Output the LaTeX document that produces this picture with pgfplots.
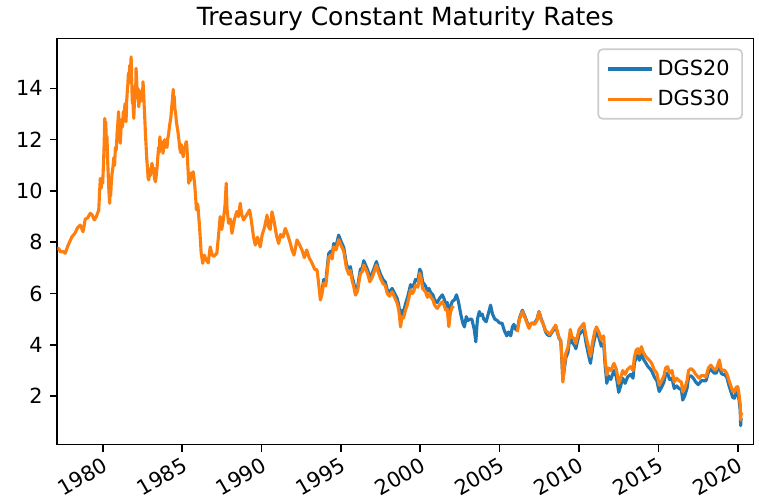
\documentclass[border=0pt]{standalone}
\usepackage{fontspec}
\setmainfont{DejaVu Sans}
\usepackage{pgfplots}
\pgfplotsset{compat=1.18}
\definecolor{mplblue}{HTML}{1F77B4}
\definecolor{mplorange}{HTML}{FF7F0E}
\definecolor{legframe}{HTML}{CCCCCC}

\begin{document}
\begin{tikzpicture}
\begin{axis}[
  scale only axis, width=334.1pt, height=194.9pt,
  xmin=1977.14, xmax=2020.98, ymin=0.12, ymax=15.95,
  xtick={1980,1985,...,2020}, ytick={2,4,...,14},
  xtick pos=left, ytick pos=left, tick align=outside,
  major tick length=3.5pt,
  every tick/.style={black, line width=0.8pt},
  axis line style={line width=0.8pt},
  /pgf/number format/.cd, 1000 sep={}, assume math mode=true, /pgfplots/.cd,
  tick label style={font=\fontsize{10}{12}\selectfont},
  x tick label style={rotate=30, anchor=north east, inner sep=1.5pt},
  legend style={at={(rel axis cs:0.985,0.975)}, anchor=north east,
    draw=legframe, rounded corners=2pt, line width=0.8pt,
    font=\fontsize{10}{12}\selectfont, row sep=1.5pt,
    inner xsep=4pt, inner ysep=3pt},
  legend cell align=left,
  legend image code/.code={\draw[#1, line width=1.5pt] (0pt,0pt) -- (21pt,0pt);},
  every axis plot/.append style={line width=1.5pt, line join=round},
]
% DGS20 (series resumes Oct 1993)
\addplot[mplblue] coordinates {
(1993.75,6.1) (1993.8,6.05) (1993.92,6.55) (1994.05,6.45) (1994.23,7.55) (1994.35,7.65)
(1994.45,7.5) (1994.55,7.95) (1994.7,7.85) (1994.86,8.28) (1995.0,8.05) (1995.18,7.8)
(1995.35,7.15) (1995.5,6.9) (1995.6,7.05) (1995.71,6.65) (1995.8,6.45) (1995.92,6.1)
(1996.05,6.25) (1996.23,6.95) (1996.35,7.0) (1996.44,7.28) (1996.6,7.05) (1996.7,6.9)
(1996.82,6.62) (1996.95,6.75) (1997.1,7.0) (1997.24,7.25) (1997.35,7.0) (1997.5,6.75)
(1997.65,6.55) (1997.8,6.45) (1997.92,6.15) (1998.05,6.05) (1998.23,6.2) (1998.35,6.05)
(1998.55,5.8) (1998.65,5.55) (1998.76,4.95) (1998.85,5.35) (1998.95,5.3) (1999.07,5.6)
(1999.2,5.85) (1999.39,6.35) (1999.5,6.25) (1999.6,6.35) (1999.7,6.55) (1999.85,6.5)
(1999.97,6.95) (2000.05,6.85) (2000.15,6.45) (2000.33,6.3) (2000.45,6.1) (2000.55,6.2)
(2000.65,6.05) (2000.8,5.95) (2000.9,5.75) (2001.07,5.65) (2001.2,5.8) (2001.39,5.95)
(2001.5,5.8) (2001.6,5.6) (2001.7,5.65) (2001.8,5.0) (2001.9,5.5) (2002.02,5.7)
(2002.15,5.75) (2002.28,5.95) (2002.4,5.7) (2002.55,5.2) (2002.68,4.85) (2002.78,4.7)
(2002.9,5.1) (2003.0,4.95) (2003.12,5.0) (2003.25,5.0) (2003.4,4.6) (2003.5,4.12)
(2003.6,5.0) (2003.72,5.3) (2003.8,5.15) (2003.9,5.2) (2004.0,5.0) (2004.15,4.9)
(2004.28,5.2) (2004.43,5.55) (2004.55,5.2) (2004.7,5.0) (2004.85,4.95) (2005.0,4.85)
(2005.15,4.85) (2005.3,4.55) (2005.45,4.35) (2005.55,4.5) (2005.7,4.35) (2005.8,4.7)
(2005.9,4.8) (2006.0,4.6) (2006.11,4.6) (2006.25,5.05) (2006.43,5.35) (2006.6,5.1)
(2006.75,4.85) (2006.85,4.7) (2007.0,4.85) (2007.2,4.85) (2007.35,5.0) (2007.48,5.3)
(2007.6,5.05) (2007.75,4.8) (2007.9,4.5) (2008.0,4.4) (2008.15,4.35) (2008.3,4.5)
(2008.53,4.7) (2008.65,4.45) (2008.75,4.25) (2008.85,4.15) (2008.92,3.4) (2008.98,2.65)
(2009.05,2.95) (2009.17,3.5) (2009.3,3.7) (2009.45,4.4) (2009.55,4.1) (2009.7,4.0)
(2009.8,3.85) (2010.0,4.4) (2010.3,4.6) (2010.45,4.05) (2010.6,3.6) (2010.72,3.28)
(2010.85,3.85) (2011.0,4.3) (2011.1,4.5) (2011.25,4.3) (2011.4,3.95) (2011.55,4.05)
(2011.65,3.15) (2011.75,2.5) (2011.85,2.8) (2012.0,2.65) (2012.2,3.0) (2012.35,2.75)
(2012.5,2.15) (2012.6,2.35) (2012.75,2.7) (2012.9,2.5) (2013.06,2.75) (2013.25,2.85)
(2013.4,2.7) (2013.48,3.25) (2013.6,3.55) (2013.7,3.6) (2013.8,3.4) (2013.93,3.7)
(2014.05,3.45) (2014.2,3.3) (2014.35,3.15) (2014.5,3.05) (2014.6,2.95) (2014.74,2.75)
(2014.9,2.6) (2015.05,2.18) (2015.2,2.35) (2015.35,2.55) (2015.45,2.85) (2015.58,2.9)
(2015.7,2.65) (2015.85,2.7) (2016.0,2.3) (2016.15,2.4) (2016.3,2.3) (2016.45,2.25)
(2016.53,1.85) (2016.65,2.0) (2016.8,2.3) (2016.9,2.75) (2017.05,2.8) (2017.2,2.7)
(2017.35,2.55) (2017.5,2.45) (2017.58,2.5) (2017.7,2.6) (2017.85,2.6) (2018.0,2.6)
(2018.15,2.95) (2018.3,3.05) (2018.5,2.9) (2018.65,2.9) (2018.84,3.25) (2018.95,2.9)
(2019.05,2.85) (2019.15,2.85) (2019.3,2.75) (2019.45,2.4) (2019.58,2.15) (2019.68,1.95)
(2019.79,1.92) (2019.9,2.15) (2020.0,2.15) (2020.08,1.85) (2020.15,1.45) (2020.18,0.85)
(2020.2,1.1) (2020.25,1.05)
};
\addlegendentry{DGS20}
% DGS30, up to its suspension in Feb 2002
\addplot[mplorange] coordinates {
(1977.12,7.75) (1977.22,7.76) (1977.35,7.62) (1977.5,7.65) (1977.64,7.57) (1977.8,7.85)
(1978.06,8.21) (1978.25,8.35) (1978.4,8.55) (1978.59,8.67) (1978.76,8.41) (1978.9,8.9)
(1979.05,8.95) (1979.22,9.13) (1979.35,9.05) (1979.47,8.87) (1979.6,9.0) (1979.75,9.26)
(1979.8,9.9) (1979.85,10.49) (1979.9,10.1) (1979.95,10.4) (1980.0,10.3) (1980.04,10.9)
(1980.08,11.6) (1980.11,12.3) (1980.13,12.83) (1980.16,12.4) (1980.19,12.7) (1980.23,12.0)
(1980.27,12.11) (1980.31,11.2) (1980.35,10.6) (1980.39,10.0) (1980.42,9.7) (1980.44,9.52)
(1980.47,10.1) (1980.5,9.8) (1980.54,10.3) (1980.59,10.69) (1980.64,10.9) (1980.7,11.3)
(1980.75,11.0) (1980.8,11.7) (1980.86,11.6) (1980.9,12.2) (1980.95,12.6) (1981.0,13.09)
(1981.03,12.5) (1981.07,12.1) (1981.11,11.86) (1981.15,12.4) (1981.2,12.8) (1981.25,12.5)
(1981.3,13.1) (1981.35,12.8) (1981.4,13.4) (1981.44,13.0) (1981.47,12.7) (1981.51,13.5)
(1981.55,13.9) (1981.58,14.13) (1981.62,14.6) (1981.66,14.2) (1981.7,14.9) (1981.75,14.7)
(1981.79,15.23) (1981.81,14.8) (1981.84,14.0) (1981.87,13.4) (1981.9,13.7) (1981.93,13.1)
(1981.96,12.83) (1982.0,13.5) (1982.04,14.1) (1982.07,13.6) (1982.1,14.78) (1982.14,14.3)
(1982.18,13.7) (1982.22,14.0) (1982.27,13.28) (1982.31,13.6) (1982.35,13.9) (1982.4,13.5)
(1982.45,13.8) (1982.5,13.6) (1982.54,14.26) (1982.58,13.8) (1982.62,13.2) (1982.66,12.7)
(1982.69,12.25) (1982.73,11.8) (1982.78,11.2) (1982.82,10.9) (1982.86,10.5) (1982.9,10.43)
(1982.95,10.8) (1983.0,10.6) (1983.05,10.9) (1983.11,11.08) (1983.16,10.7) (1983.2,10.9)
(1983.26,10.5) (1983.32,10.36) (1983.37,10.6) (1983.42,10.9) (1983.47,11.3) (1983.52,11.7)
(1983.56,11.5) (1983.6,12.11) (1983.65,11.8) (1983.7,11.6) (1983.75,11.9) (1983.8,11.47)
(1983.85,11.8) (1983.9,12.0) (1983.95,11.7) (1984.0,11.8) (1984.05,11.7) (1984.1,12.05)
(1984.15,12.2) (1984.2,12.5) (1984.25,12.7) (1984.3,12.9) (1984.35,13.3) (1984.4,13.6)
(1984.44,13.96) (1984.47,13.5) (1984.5,13.7) (1984.55,13.2) (1984.6,13.0) (1984.64,12.7)
(1984.69,12.5) (1984.74,12.3) (1984.8,12.0) (1984.85,11.7) (1984.9,11.5) (1984.95,11.8)
(1985.0,11.6) (1985.07,11.33) (1985.12,11.7) (1985.2,11.6) (1985.24,11.9) (1985.28,11.92)
(1985.32,11.5) (1985.36,11.0) (1985.42,10.3) (1985.47,10.7) (1985.52,10.4) (1985.58,10.7)
(1985.64,10.6) (1985.7,10.75) (1985.75,10.5) (1985.8,10.2) (1985.85,9.8) (1985.9,9.26)
(1985.95,9.5) (1986.0,9.4) (1986.1,8.6) (1986.2,7.6) (1986.3,7.18) (1986.4,7.5)
(1986.52,7.31) (1986.65,7.2) (1986.77,7.82) (1986.9,7.5) (1987.0,7.45) (1987.19,7.57)
(1987.3,8.3) (1987.4,9.0) (1987.5,8.5) (1987.6,8.9) (1987.7,9.4) (1987.78,10.3)
(1987.83,9.3) (1987.93,8.74) (1988.05,8.9) (1988.14,8.35) (1988.3,8.9) (1988.45,9.2)
(1988.55,9.0) (1988.66,9.52) (1988.75,9.1) (1988.87,8.87) (1989.0,9.0) (1989.1,9.1)
(1989.25,9.26) (1989.35,8.9) (1989.5,8.2) (1989.61,7.89) (1989.75,8.2) (1989.92,7.82)
(1990.05,8.3) (1990.2,8.6) (1990.35,9.06) (1990.45,8.6) (1990.55,8.5) (1990.66,9.19)
(1990.8,8.8) (1990.95,8.25) (1991.08,7.95) (1991.2,8.3) (1991.35,8.2) (1991.5,8.54)
(1991.65,8.3) (1991.82,7.95) (1991.92,7.7) (1992.05,7.5) (1992.24,8.09) (1992.4,7.9)
(1992.55,7.7) (1992.7,7.4) (1992.85,7.7) (1993.0,7.4) (1993.19,7.18) (1993.35,6.95)
(1993.5,6.92) (1993.6,6.4) (1993.71,5.75) (1993.8,5.95) (1993.92,6.4) (1994.05,6.3)
(1994.23,7.4) (1994.35,7.5) (1994.45,7.35) (1994.55,7.82) (1994.7,7.7) (1994.86,8.1)
(1995.0,7.9) (1995.18,7.65) (1995.35,7.0) (1995.5,6.75) (1995.6,6.9) (1995.71,6.5)
(1995.8,6.3) (1995.92,5.94) (1996.05,6.1) (1996.23,6.8) (1996.35,6.85) (1996.44,7.11)
(1996.6,6.9) (1996.7,6.75) (1996.82,6.46) (1996.95,6.6) (1997.1,6.85) (1997.24,7.11)
(1997.35,6.85) (1997.5,6.59) (1997.65,6.4) (1997.8,6.3) (1997.92,6.01) (1998.05,5.9)
(1998.23,6.07) (1998.35,5.9) (1998.55,5.62) (1998.65,5.35) (1998.76,4.7) (1998.85,5.1)
(1998.95,5.05) (1999.07,5.35) (1999.2,5.6) (1999.39,6.14) (1999.5,6.0) (1999.6,6.1)
(1999.7,6.33) (1999.85,6.25) (1999.97,6.79) (2000.05,6.6) (2000.15,6.2) (2000.33,6.07)
(2000.45,5.85) (2000.55,6.0) (2000.65,5.88) (2000.8,5.75) (2000.9,5.55) (2001.07,5.42)
(2001.2,5.55) (2001.39,5.68) (2001.5,5.55) (2001.6,5.36) (2001.7,5.4) (2001.8,4.71)
(2001.9,5.25) (2002.02,5.49) (2002.1,5.43)
};
\addlegendentry{DGS30}
% DGS30, reintroduced Feb 2006
\addplot[mplorange, forget plot] coordinates {
(2006.11,4.5) (2006.25,5.0) (2006.43,5.3) (2006.6,5.05) (2006.75,4.8) (2006.85,4.64)
(2007.0,4.85) (2007.2,4.8) (2007.35,4.95) (2007.48,5.29) (2007.6,5.0) (2007.75,4.8)
(2007.9,4.55) (2008.0,4.51) (2008.15,4.4) (2008.3,4.55) (2008.53,4.77) (2008.65,4.5)
(2008.75,4.25) (2008.85,4.19) (2008.92,3.5) (2008.98,2.55) (2009.05,3.0) (2009.17,3.67)
(2009.3,3.9) (2009.45,4.6) (2009.55,4.3) (2009.7,4.25) (2009.8,4.05) (2010.0,4.6)
(2010.3,4.84) (2010.45,4.3) (2010.6,3.9) (2010.72,3.55) (2010.85,4.1) (2011.0,4.55)
(2011.1,4.7) (2011.25,4.5) (2011.4,4.2) (2011.55,4.35) (2011.65,3.4) (2011.75,2.82)
(2011.85,3.1) (2012.0,3.0) (2012.2,3.28) (2012.35,3.05) (2012.5,2.5) (2012.6,2.65)
(2012.75,3.0) (2012.9,2.85) (2013.06,3.05) (2013.25,3.15) (2013.4,3.0) (2013.48,3.5)
(2013.6,3.8) (2013.7,3.85) (2013.8,3.65) (2013.93,3.93) (2014.05,3.7) (2014.2,3.55)
(2014.35,3.45) (2014.5,3.35) (2014.6,3.25) (2014.74,3.02) (2014.9,2.9) (2015.05,2.43)
(2015.2,2.6) (2015.35,2.8) (2015.45,3.1) (2015.58,3.15) (2015.7,2.9) (2015.85,3.0)
(2016.0,2.56) (2016.15,2.7) (2016.3,2.6) (2016.45,2.55) (2016.53,2.17) (2016.65,2.3)
(2016.8,2.6) (2016.9,3.0) (2017.05,3.08) (2017.2,3.0) (2017.35,2.85) (2017.5,2.75)
(2017.58,2.7) (2017.7,2.8) (2017.85,2.8) (2018.0,2.75) (2018.15,3.1) (2018.3,3.21)
(2018.5,3.05) (2018.65,3.05) (2018.84,3.41) (2018.95,3.05) (2019.05,3.0) (2019.15,3.02)
(2019.3,2.9) (2019.45,2.6) (2019.58,2.37) (2019.68,2.2) (2019.79,2.17) (2019.9,2.35)
(2020.0,2.37) (2020.08,2.05) (2020.15,1.7) (2020.18,1.07) (2020.2,1.35) (2020.25,1.25)
};
\end{axis}
\node[anchor=base, font=\fontsize{12}{14}\selectfont, inner sep=0pt]
  at ([yshift=6.3pt]current axis.north) {Treasury Constant Maturity Rates};
\pgfresetboundingbox
\path[use as bounding box] ([shift={(-27.5pt,-28.2pt)}]current axis.south west)
  rectangle ([shift={(2.7pt,18.4pt)}]current axis.north east);
\end{tikzpicture}
\end{document}
